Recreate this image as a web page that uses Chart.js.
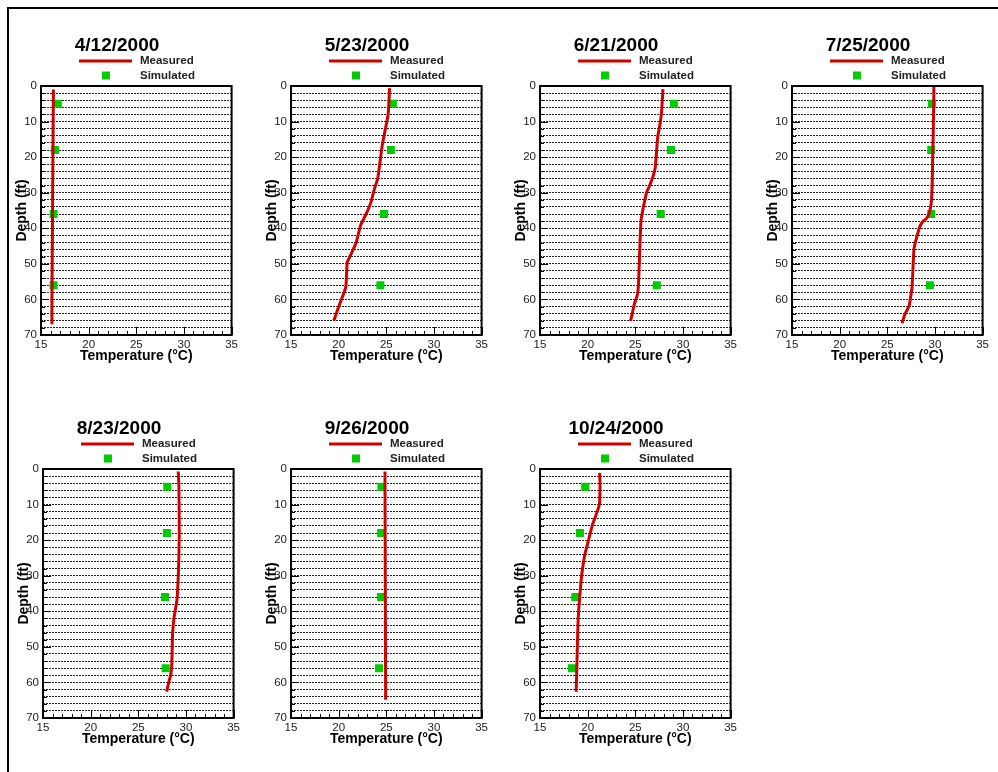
<!DOCTYPE html>
<html>
<head>
<meta charset="utf-8">
<script src="https://cdn.jsdelivr.net/npm/chart.js@4/dist/chart.umd.min.js"></script>
<style>
  html, body { margin: 0; padding: 0; background: #fff; overflow: hidden; }
  #page { position: relative; width: 998px; height: 772px; overflow: hidden; }
  #frame { position: absolute; left: 7px; top: 7px; width: 1100px; height: 900px; border: 2px solid #000; box-sizing: border-box; }
  canvas { position: absolute; }
</style>
</head>
<body>
<div id="page">
  <div id="frame"></div>
</div>
<script>
// survey dates (one panel each)
const panelDates = ['4/12/2000', '5/23/2000', '6/21/2000', '7/25/2000', '8/23/2000', '9/26/2000', '10/24/2000'];

// depths of the simulated points (ft)
const simDepths = [5, 18, 36, 56];

// measured profiles: depth (ft) / temperature (C)
const aprDepth = [1, 20, 40, 60, 67];
const aprTemp = [16.3, 16.25, 16.2, 16.15, 16.15];
const aprSim = [16.77, 16.46, 16.32, 16.32];

const mayDepth = [0.6, 7.8, 10.1, 16.2, 22.8, 26, 29.4, 32.6, 35.9, 39.2, 43.9, 48.1, 49.5, 54.7, 56.6, 58.9, 61.7, 65.9];
const mayTemp = [25.35, 25.2, 25.05, 24.6, 24.27, 24.1, 23.7, 23.4, 22.9, 22.3, 21.85, 21.16, 20.9, 20.8, 20.74, 20.45, 20.05, 19.5];
const maySim = [25.69, 25.48, 24.76, 24.38];

const junDepth = [0.9, 6.8, 10.1, 14.4, 22.8, 25.1, 28, 29.8, 34, 37.8, 47.2, 56.1, 58.9, 61.3, 66.1];
const junTemp = [27.9, 27.77, 27.63, 27.35, 27.1, 26.9, 26.5, 26.2, 25.85, 25.6, 25.45, 25.33, 25.2, 24.9, 24.5];
const junSim = [29.05, 28.74, 27.66, 27.25];

const julDepth = [0.3, 8.7, 18, 28.4, 33.1, 35.9, 37.3, 38.3, 39.7, 43, 45.8, 50.9, 56.6, 58.4, 61.7, 64.5, 66.7];
const julTemp = [29.89, 29.85, 29.78, 29.7, 29.6, 29.37, 29.09, 28.67, 28.39, 28.04, 27.8, 27.7, 27.6, 27.5, 27.3, 26.8, 26.55];
const julSim = [29.68, 29.61, 29.61, 29.47];

const augDepth = [0.7, 4.9, 18, 27.4, 36.7, 41.4, 46.1, 53.6, 57.4, 60.2, 62.6];
const augTemp = [29.19, 29.26, 29.3, 29.23, 29.06, 28.77, 28.6, 28.53, 28.43, 28.18, 27.97];
const augSim = [28.04, 28.0, 27.8, 27.87];

const sepDepth = [0.7, 64.9];
const sepTemp = [24.86, 24.93];
const sepSim = [24.48, 24.45, 24.45, 24.24];

const octDepth = [1.1, 4.9, 10, 12.4, 15.7, 19.9, 24.1, 29.3, 34.9, 42.4, 51.8, 62.6];
const octTemp = [21.26, 21.3, 21.23, 20.95, 20.5, 20.1, 19.7, 19.4, 19.2, 19.0, 18.9, 18.8];
const octSim = [19.74, 19.19, 18.7, 18.36];

const measuredDepths = [aprDepth, mayDepth, junDepth, julDepth, augDepth, sepDepth, octDepth];
const measuredTemps = [aprTemp, mayTemp, junTemp, julTemp, augTemp, sepTemp, octTemp];
const simulatedTemps = [aprSim, maySim, junSim, julSim, augSim, sepSim, octSim];

// canvas placement of each panel (page pixels)
const panelPos = [[1, 20], [251, 20], [500, 20], [752, 20], [3, 403], [251, 403], [500, 403]];

const RED = '#d00000';
const GREEN = '#00cc00';

// inward ticks, plot frame and the two-row legend
const profilePlugin = {
    id: 'profileDecor',
    beforeDatasetsDraw(chart) {
        const ctx = chart.ctx;
        const a = chart.chartArea;
        const xs = chart.scales.x;
        const ys = chart.scales.y;
        ctx.save();
        ctx.strokeStyle = '#000';
        ctx.lineWidth = 1;
        ctx.beginPath();
        for (let t = 15; t <= 35; t++) {
            const px = Math.round(xs.getPixelForValue(t)) + 0.5;
            const len = t % 5 === 0 ? 8 : 4;
            ctx.moveTo(px, a.bottom);
            ctx.lineTo(px, a.bottom - len);
        }
        for (let d = 0; d <= 70; d += 2) {
            const py = Math.round(ys.getPixelForValue(d)) + 0.5;
            const len = d % 10 === 0 ? 8 : 4;
            ctx.moveTo(a.left, py);
            ctx.lineTo(a.left + len, py);
        }
        ctx.stroke();
        ctx.lineWidth = 2;
        ctx.strokeRect(a.left, a.top, a.right - a.left, a.bottom - a.top);
        ctx.restore();
    },
    afterDraw(chart) {
        const ctx = chart.ctx;
        const a = chart.chartArea;
        const ds = chart.data.datasets;
        ctx.save();
        ctx.font = 'bold 11.5px "Liberation Sans", Arial, sans-serif';
        ctx.fillStyle = '#222';
        ctx.textBaseline = 'middle';
        ctx.textAlign = 'left';
        const y1 = a.top - 25;
        const y2 = a.top - 10.5;
        ctx.strokeStyle = ds[0].borderColor;
        ctx.lineWidth = 3;
        ctx.beginPath();
        ctx.moveTo(a.left + 38, y1);
        ctx.lineTo(a.left + 91, y1);
        ctx.stroke();
        ctx.fillText(ds[0].label, a.left + 99, y1);
        ctx.fillStyle = ds[1].backgroundColor;
        ctx.fillRect(a.left + 61, y2 - 4, 8, 8);
        ctx.fillStyle = '#222';
        ctx.fillText(ds[1].label, a.left + 99, y2);
        ctx.restore();
    }
};

function makePanel(i) {
    const canvas = document.createElement('canvas');
    canvas.width = 240;
    canvas.height = 350;
    canvas.style.left = panelPos[i][0] + 'px';
    canvas.style.top = panelPos[i][1] + 'px';
    document.getElementById('page').appendChild(canvas);

    const measured = measuredDepths[i].map((d, k) => ({ x: measuredTemps[i][k], y: d }));
    const simulated = simDepths.map((d, k) => ({ x: simulatedTemps[i][k], y: d }));
    const tickFont = { family: '"Liberation Sans", Arial, sans-serif', size: 11.5 };
    const titleFont = { family: '"Liberation Sans", Arial, sans-serif', size: 14, weight: 'bold' };

    new Chart(canvas.getContext('2d'), {
        type: 'scatter',
        data: {
            datasets: [{
                label: 'Measured',
                data: measured,
                showLine: true,
                borderColor: RED,
                borderWidth: 3,
                pointRadius: 0,
                tension: 0.15,
                fill: false
            }, {
                label: 'Simulated',
                data: simulated,
                backgroundColor: GREEN,
                borderColor: GREEN,
                pointStyle: 'rect',
                pointRadius: 5.66,
                pointBorderWidth: 0
            }]
        },
        options: {
            responsive: false,
            animation: false,
            layout: { padding: { left: 0, right: 8, top: 0, bottom: 3 } },
            plugins: {
                legend: { display: false },
                tooltip: { enabled: false },
                title: {
                    display: true,
                    text: panelDates[i],
                    color: '#000',
                    font: { family: '"Liberation Sans", Arial, sans-serif', size: 19, weight: 'bold' },
                    padding: { top: 14, bottom: 29.2 }
                }
            },
            scales: {
                x: {
                    type: 'linear',
                    position: 'bottom',
                    min: 15,
                    max: 35,
                    ticks: { stepSize: 5, color: '#222', font: tickFont, padding: 3, maxRotation: 0 },
                    grid: { display: false, drawTicks: false },
                    border: { display: false },
                    title: { display: true, text: 'Temperature (°C)', color: '#000', font: titleFont, padding: { top: 0, bottom: 2 } },
                    afterFit(scale) { scale.height = 32; }
                },
                y: {
                    type: 'linear',
                    reverse: true,
                    min: 0,
                    max: 70,
                    ticks: {
                        stepSize: 2,
                        autoSkip: false,
                        color: '#222',
                        font: tickFont,
                        padding: 4,
                        callback: v => (v % 10 === 0 ? v : '')
                    },
                    grid: { color: '#222', lineWidth: 1, drawTicks: false },
                    border: { display: false, dash: [2, 1] },
                    title: { display: true, text: 'Depth (ft)', color: '#000', font: titleFont, padding: { top: 13, bottom: 0 } },
                    afterFit(scale) { scale.width = 40; }
                }
            }
        },
        plugins: [profilePlugin]
    });
}

panelDates.forEach((d, i) => makePanel(i));
</script>
</body>
</html>
